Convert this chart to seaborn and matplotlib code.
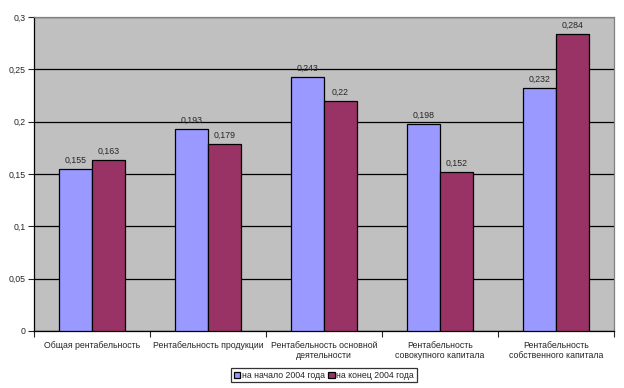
import pandas as pd
import seaborn as sns
import matplotlib.pyplot as plt
from matplotlib.ticker import FixedLocator

categories = ['Общая рентабельность', 'Рентабельность продукции',
              'Рентабельность основной\nдеятельности',
              'Рентабельность\nсовокупного капитала',
              'Рентабельность\nсобственного капитала']
series = ['на начало 2004 года', 'на конец 2004 года']
start_vals = [0.155, 0.193, 0.243, 0.198, 0.232]
end_vals = [0.163, 0.179, 0.22, 0.152, 0.284]
y_ticks = [0, 0.05, 0.1, 0.15, 0.2, 0.25, 0.3]

df = pd.DataFrame({
    'cat': categories * 2,
    'series': [series[0]] * 5 + [series[1]] * 5,
    'value': start_vals + end_vals,
})

sns.set_style('white')
plt.rcParams['font.family'] = ['Liberation Sans', 'DejaVu Sans']
fs = 6.3

fig = plt.figure(figsize=(6.24, 3.88), dpi=100)
ax = fig.add_axes([0.0545, 0.147, 0.9295, 0.809])
ax.set_facecolor('#C0C0C0')

sns.barplot(data=df, x='cat', y='value', hue='series', order=categories,
            hue_order=series, palette=['#9999FF', '#993366'],
            width=0.57, edgecolor='black', linewidth=0.9, saturation=1,
            ax=ax, zorder=3)

for cont in ax.containers:
    labels = [f'{v:g}'.replace('.', ',') for v in cont.datavalues]
    ax.bar_label(cont, labels=labels, padding=3, fontsize=fs)

ax.set_ylim(0, 0.3)
ax.set_xlim(-0.5, 4.5)
ax.set_yticks(y_ticks)
ax.set_yticklabels([f'{t:g}'.replace('.', ',') for t in y_ticks], fontsize=fs)
ax.yaxis.grid(True, color='black', linewidth=0.9, zorder=0)
ax.set_axisbelow(True)
ax.tick_params(axis='y', length=4, width=0.8, direction='out', left=True, pad=2)
ax.tick_params(axis='x', which='major', length=0, labelsize=fs, pad=7)
ax.xaxis.set_minor_locator(FixedLocator([-0.5, 0.5, 1.5, 2.5, 3.5, 4.5]))
ax.tick_params(axis='x', which='minor', length=4, width=0.8, direction='out', bottom=True)
ax.set_xlabel('')
ax.set_ylabel('')

for s in ['left', 'bottom']:
    ax.spines[s].set_color('black')
    ax.spines[s].set_linewidth(0.9)
for s in ['top', 'right']:
    ax.spines[s].set_color('#808080')
    ax.spines[s].set_linewidth(0.9)

leg = ax.legend(loc='upper center', bbox_to_anchor=(0.5, -0.118), ncol=2,
                fontsize=fs, frameon=True, fancybox=False, edgecolor='black',
                handlelength=0.7, handleheight=0.7, handletextpad=0.2,
                columnspacing=0.4, borderpad=0.3, borderaxespad=0)
leg.get_frame().set_linewidth(0.9)

fig.savefig('out.png', dpi=100)
